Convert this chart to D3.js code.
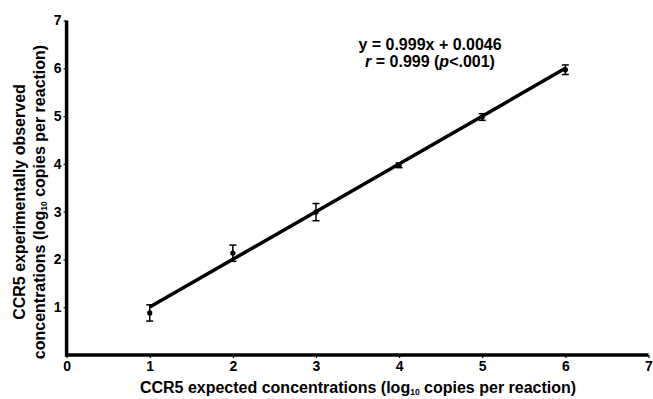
<!DOCTYPE html>
<html>
<head>
<meta charset="utf-8">
<script src="https://cdn.jsdelivr.net/npm/d3@7"></script>
<style>
  body { margin: 0; background: #fff; }
  text { font-family: "Liberation Sans", Arial, sans-serif; font-weight: bold; fill: #000; }
</style>
</head>
<body>
<script>
// data
const expected = [1, 2, 3, 4, 5, 6];
const observed = [0.88, 2.13, 2.99, 3.97, 4.98, 5.97];
const errSd = [0.17, 0.17, 0.18, 0.05, 0.07, 0.10];
const xTicks = [0, 1, 2, 3, 4, 5, 6, 7];
const yTicks = [1, 2, 3, 4, 5, 6, 7];
const slope = 0.999, intercept = 0.0046;
const eqLines = ["y = 0.999x + 0.0046", "r = 0.999 (p<.001)"];

const width = 653, height = 399;
const svg = d3.select("body").append("svg")
    .attr("width", width)
    .attr("height", height);

const x = d3.scaleLinear().domain([0, 7]).range([66.6, 648.5]);
const y = d3.scaleLinear().domain([0, 7]).range([355, 20.5]);

// y axis
const yAxis = svg.append("g")
    .attr("transform", `translate(${x(0)},0)`)
    .call(d3.axisLeft(y).tickValues(yTicks).tickSize(3).tickPadding(2).tickFormat(d3.format("d")));
yAxis.select(".domain").attr("d", `M0,${y(7)}V${y(0) + 1.5}`).attr("stroke-width", 3.5);
yAxis.selectAll(".tick line").attr("stroke-width", 1.2);
yAxis.selectAll(".tick text").style("font-size", "14px");

// x axis
const xAxis = svg.append("g")
    .attr("transform", `translate(0,${y(0)})`)
    .call(d3.axisBottom(x).tickValues(xTicks).tickSize(3).tickPadding(3).tickFormat(d3.format("d")));
xAxis.select(".domain").attr("d", `M${x(0) - 1.5},0H${x(7)}`).attr("stroke-width", 3.5);
xAxis.selectAll(".tick line").attr("stroke-width", 1.2);
xAxis.selectAll(".tick text").style("font-size", "14px");

// regression line
svg.append("line")
    .attr("x1", x(1)).attr("y1", y(slope * 1 + intercept))
    .attr("x2", x(6)).attr("y2", y(slope * 6 + intercept))
    .attr("stroke", "#000").attr("stroke-width", 3.5);

// error bars and points
const pts = expected.map((d, i) => ({ x: d, y: observed[i], e: errSd[i] }));
const g = svg.append("g").attr("stroke", "#000").attr("stroke-width", 1.5);
g.selectAll(".eb").data(pts).join("line")
    .attr("x1", d => x(d.x)).attr("x2", d => x(d.x))
    .attr("y1", d => y(d.y - d.e)).attr("y2", d => y(d.y + d.e));
g.selectAll(".capt").data(pts).join("line")
    .attr("x1", d => x(d.x) - 3.5).attr("x2", d => x(d.x) + 3.5)
    .attr("y1", d => y(d.y + d.e)).attr("y2", d => y(d.y + d.e));
g.selectAll(".capb").data(pts).join("line")
    .attr("x1", d => x(d.x) - 3.5).attr("x2", d => x(d.x) + 3.5)
    .attr("y1", d => y(d.y - d.e)).attr("y2", d => y(d.y - d.e));
svg.selectAll(".pt").data(pts).join("circle")
    .attr("cx", d => x(d.x)).attr("cy", d => y(d.y)).attr("r", 2.6).attr("fill", "#000");

// equation
const eq = svg.append("text").attr("text-anchor", "middle").style("font-size", "16px");
eq.append("tspan").attr("x", 430).attr("y", 50).text(eqLines[0]);
const l2 = eq.append("tspan").attr("x", 430).attr("y", 67);
l2.append("tspan").attr("font-style", "italic").text("r");
l2.append("tspan").text(" = 0.999 (");
l2.append("tspan").attr("font-style", "italic").text("p");
l2.append("tspan").text("<.001)");

// x title
const xt = svg.append("text").attr("x", 358).attr("y", 393).attr("text-anchor", "middle").style("font-size", "16px");
xt.append("tspan").text("CCR5 expected concentrations (log");
xt.append("tspan").attr("dy", 1.5).style("font-size", "8.5px").text("10");
xt.append("tspan").attr("dy", -1.5).text(" copies per reaction)");

// y title
const yt = svg.append("text").attr("transform", "translate(0,202) rotate(-90)").attr("text-anchor", "middle").style("font-size", "16px");
yt.append("tspan").attr("x", 0).attr("y", 25).text("CCR5 experimentally observed");
const yl2 = yt.append("tspan").attr("x", 0).attr("y", 45);
yl2.append("tspan").text("concentrations (log");
yl2.append("tspan").attr("dy", 1.5).style("font-size", "8.5px").text("10");
yl2.append("tspan").attr("dy", -1.5).text(" copies per reaction)");
</script>
</body>
</html>
